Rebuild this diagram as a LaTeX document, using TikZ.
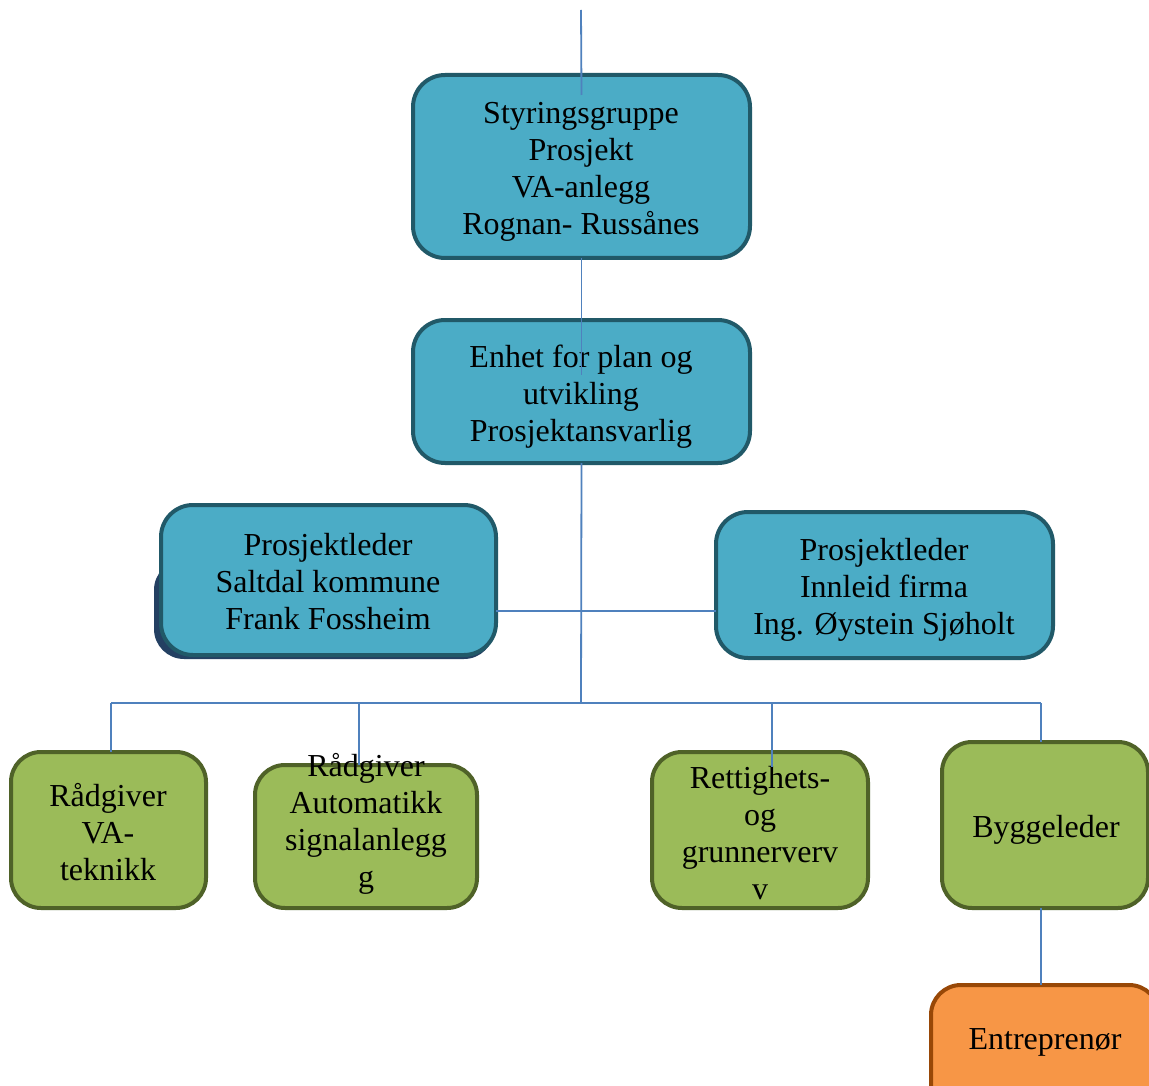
\documentclass[tikz,border=0pt]{standalone}
\usepackage{fontspec}
\setmainfont{Liberation Serif}
\definecolor{tealfill}{HTML}{4BACC6}
\definecolor{tealline}{HTML}{215968}
\definecolor{shadowc}{HTML}{244062}
\definecolor{greenfill}{HTML}{9BBB59}
\definecolor{greenline}{HTML}{4F6228}
\definecolor{orangefill}{HTML}{F79646}
\definecolor{orangeline}{HTML}{984807}
\definecolor{linkc}{HTML}{4F81BD}
\begin{document}
\begin{tikzpicture}[x=1pt,y=-1pt,
  box/.style={line width=4pt, rounded corners=32pt, inner sep=0pt, outer sep=0pt},
  tealbox/.style={box, fill=tealfill, draw=tealline},
  greenbox/.style={box, fill=greenfill, draw=greenline, rounded corners=30pt},
  orangebox/.style={box, fill=orangefill, draw=orangeline, rounded corners=30pt},
  txt/.style={font=\fontsize{32}{37}\selectfont, align=center, inner sep=0pt},
  link/.style={draw=linkc, line width=1.8pt}]
\useasboundingbox (0,0) rectangle (1149,1086);
\clip (0,0) rectangle (1149,1086);
\fill[white] (0,0) rectangle (1149,1086);

% boxes
\node[tealbox, minimum width=337pt, minimum height=183pt] (b1) at (581.5,166.5) {};
\node[tealbox, minimum width=337pt, minimum height=143pt] (b2) at (581.5,391.5) {};
\fill[shadowc, rounded corners=30pt] (154,560) rectangle (494,659);
\node[tealbox, minimum width=335pt, minimum height=150pt] (pl) at (328.5,580) {};
\node[tealbox, minimum width=337pt, minimum height=146pt] (pr) at (884.5,585) {};
\node[greenbox, minimum width=195pt, minimum height=156pt] (g1) at (108.5,830) {};
\node[greenbox, minimum width=222pt, minimum height=143pt] (g2) at (366,836.5) {};
\node[greenbox, minimum width=216pt, minimum height=156pt] (g3) at (760,830) {};
\node[greenbox, minimum width=206pt, minimum height=166pt] (g4) at (1045,825) {};
\node[orangebox, minimum width=228pt, minimum height=143pt] (en) at (1045,1056.5) {};

% texts
\node[txt] (t1) at (581,172) {\strut Styringsgruppe\\Prosjekt\\VA-anlegg\\Rognan- Russånes\strut};
\node[txt] (t2) at (581,397) {\strut Enhet for plan og\\utvikling\\Prosjektansvarlig\strut};
\node[txt] (tpl) at (328,585.5) {\strut Prosjektleder\\Saltdal kommune\\Frank Fossheim\strut};
\node[txt] (tpr) at (884,590.5) {\strut Prosjektleder\\Innleid firma\\Ing. Øystein Sjøholt\strut};
\node[txt] (tg1) at (108,836) {\strut Rådgiver\\VA-\\teknikk\strut};
\node[txt] (tg2) at (366,824.5) {\strut Rådgiver\\Automatikk\\signalanlegg\\g\strut};
\node[txt] (tg3) at (760,836.5) {\strut Rettighets-\\og\\grunnerverv\\v\strut};
\node[txt] (tg4) at (1046,830.5) {\strut Byggeleder\strut};
\node[txt] (ten) at (1045,1042.5) {\strut Entreprenør\strut};

% connectors
\coordinate (top) at (581,10);
\coordinate (m) at (581,611);
\coordinate (bus) at (581,703);
\path[link] (top) -- ([yshift=-20pt]b1.north);
\path[link] (b1.south) -- ([yshift=-55pt]b2.north);
\path[link] (b2.south) -- (bus);
\path[link] (pl.east |- m) -- (pr.west |- m);
\path[link] ([xshift=2.5pt]g1.north |- bus) -- ([xshift=-4pt]g4.north |- bus);
\path[link] ([xshift=2.5pt]g1.north |- bus) -- ([xshift=2.5pt]g1.north);
\path[link] ([xshift=-7pt]g2.north |- bus) -- ([xshift=-7pt]g2.north);
\path[link] ([xshift=12pt]g3.north |- bus) -- ([xshift=12pt,yshift=-15pt]g3.north);
\path[link] ([xshift=-4pt]g4.north |- bus) -- ([xshift=-4pt]g4.north);
\path[link] ([xshift=-4pt]g4.south) -- ([xshift=-4pt]en.north);
\end{tikzpicture}
\end{document}
